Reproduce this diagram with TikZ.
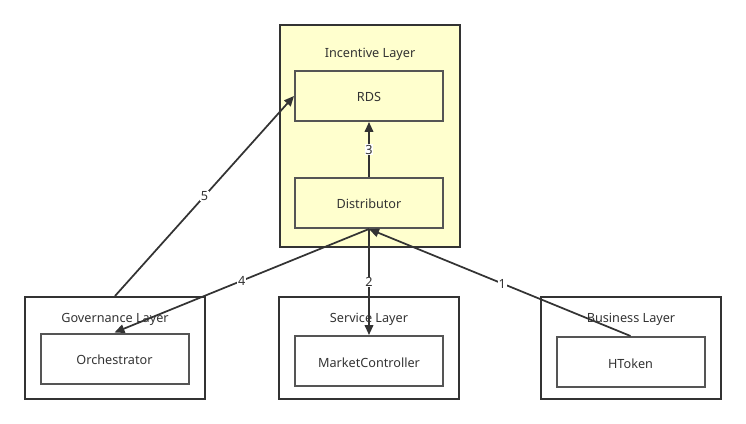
\documentclass[tikz,border=0pt]{standalone}
\usepackage{fontspec}
\setmainfont{Noto Sans}
\usetikzlibrary{arrows.meta}
\definecolor{lineC}{HTML}{333333}
\definecolor{boxC}{HTML}{555555}
\definecolor{yel}{HTML}{FFFFCE}
\definecolor{txt}{HTML}{333333}
\tikzset{
  layer/.style={draw=lineC, line width=1.5pt, inner sep=0pt},
  comp/.style={draw=boxC, line width=1.5pt, minimum width=111pt, minimum height=37.5pt, inner sep=0pt, font=\fontsize{9.5}{11}\selectfont, text=txt, text height=9pt, text depth=0pt},
  ttl/.style={font=\fontsize{9.5}{11}\selectfont, text=txt, inner sep=0pt, text height=9pt, text depth=0pt},
  conn/.style={draw=lineC, line width=1.3pt, -{Triangle[length=7.5pt,width=6.5pt]}},
  elab/.style={fill=white, inner sep=0.5pt, font=\fontsize{9.5}{11}\selectfont, text=txt}
}
\begin{document}
\begin{tikzpicture}[x=0.75pt,y=-0.75pt]
\useasboundingbox (0,0) rectangle (746,424);
% layers
\node[layer, fill=yel, minimum width=135pt, minimum height=166.5pt] (inc) at (370,136) {};
\node[layer, minimum width=135pt, minimum height=76.5pt] (gov) at (115,348) {};
\node[layer, minimum width=135pt, minimum height=76.5pt] (srv) at (369,348) {};
\node[layer, minimum width=135pt, minimum height=76.5pt] (bus) at (631,348) {};
% titles
\node[ttl] (incT) at (370,52) {Incentive Layer};
\node[ttl] (govT) at (115,316) {Governance Layer};
\node[ttl] (srvT) at (369,316) {Service Layer};
\node[ttl] (busT) at (631,316) {Business Layer};
% components
\node[comp, fill=yel] (rds) at (369,96) {RDS};
\node[comp, fill=yel] (dist) at (369,203) {Distributor};
\node[comp] (orch) at (114.5,358.5) {Orchestrator};
\node[comp] (mc) at (369,361) {MarketController};
\node[comp] (ht) at (630.5,362) {HToken};
% connectors
\draw[conn] (ht.north) -- node[elab, pos=0.49] {1} (dist.south);
\draw[conn] (dist.south) -- node[elab, pos=0.5] {2} (mc.north);
\draw[conn] (dist.north) -- node[elab, pos=0.5] {3} (rds.south);
\draw[conn] (dist.south) -- node[elab, pos=0.5] {4} (orch.north);
\draw[conn] (gov.north) -- node[elab, pos=0.5] {5} (rds.west);
\end{tikzpicture}
\end{document}
